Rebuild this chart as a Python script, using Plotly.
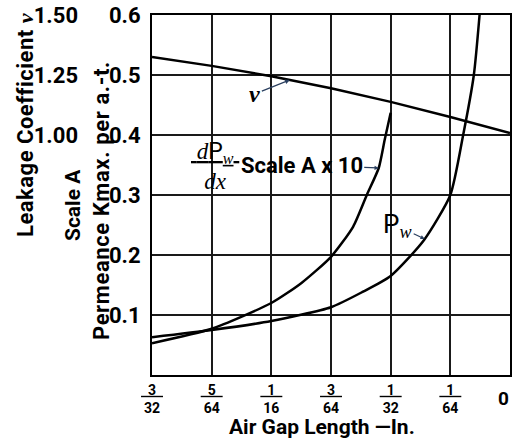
import numpy as np
import plotly.graph_objects as go

# ---- data (air gap in 64ths of an inch) ----
nu_gap_64 = [6, 5, 4, 3, 2, 1, 0]
nu_leakage = [1.325, 1.288, 1.245, 1.195, 1.138, 1.075, 1.008]

dpdx_gap_64 = [6.0, 5.0, 4.0, 3.5, 3.0, 2.63, 2.4, 2.2, 2.1, 2.0]
dpdx_scaleA = [0.053, 0.077, 0.12, 0.153, 0.197, 0.247, 0.30, 0.345, 0.392, 0.437]

pw_gap_64 = [6.0, 5.0, 4.0, 3.0, 2.48, 2.0, 1.44, 1.0, 0.785, 0.606, 0.51]
pw_scaleA = [0.063, 0.075, 0.09, 0.113, 0.138, 0.165, 0.225, 0.30, 0.40, 0.50, 0.60]

x_tick_vals_64 = [6, 5, 4, 3, 2, 1, 0]
x_tick_num = ["3", "5", "1", "3", "1", "1"]
x_tick_den = ["32", "64", "16", "64", "32", "64"]
y_ticks = [0.1, 0.2, 0.3, 0.4, 0.5, 0.6]
nu_ticks = [1.00, 1.25, 1.50]

to_in = lambda a: [v / 64 for v in a]

FONT = "Roboto, Liberation Sans, sans-serif"
SERIF = "Liberation Serif, DejaVu Serif, serif"
W, H = 512, 444
PL, PR, PT, PB = 152, 510, 15, 375   # plot box in px
ML, MR, MT, MB = 0, W - PR, PT, H - PB
PW, PH = W - ML - MR, H - MT - MB
def px(x): return x / PW
def py(y): return (PB - y) / PH

fig = go.Figure()
line = dict(color="black", width=2.5, shape="spline", smoothing=0.6)
fig.add_trace(go.Scatter(x=to_in(nu_gap_64), y=nu_leakage, mode="lines", yaxis="y2",
                         line=dict(color="black", width=2.5)))
fig.add_trace(go.Scatter(x=to_in(dpdx_gap_64), y=dpdx_scaleA, mode="lines", line=line))
fig.add_trace(go.Scatter(x=to_in(pw_gap_64), y=pw_scaleA, mode="lines", line=line))

ticktext = [f"<u>\u00a0\u00a0{n}\u00a0\u00a0</u><br>{d}" for n, d in zip(x_tick_num, x_tick_den)] + [" "]

fig.update_layout(
    width=W, height=H, margin=dict(l=ML, r=MR, t=MT, b=MB, autoexpand=False),
    plot_bgcolor="white", paper_bgcolor="white", showlegend=False,
    font=dict(family=FONT, color="black"),
    xaxis=dict(domain=[PL / PW, 1], range=[6 / 64, 0], tickvals=to_in(x_tick_vals_64), ticktext=ticktext,
               showgrid=True, gridcolor="#1a1a1a", gridwidth=1.5, zeroline=False, automargin=False,
               showline=True, mirror=True, linecolor="black", linewidth=2, ticks="",
               ticklabeloverflow="allow",
               tickfont=dict(size=14, family=FONT, weight="bold"), ticklabelstandoff=1),
    yaxis=dict(range=[0, 0.6], tickvals=y_ticks, tickformat=".1f", anchor="x", automargin=False,
               showgrid=True, gridcolor="#1a1a1a", gridwidth=1.5, zeroline=False,
               showline=True, mirror=True, linecolor="black", linewidth=2, ticks="",
               ticklabeloverflow="allow",
               tickfont=dict(size=22, family=FONT, weight="bold"), ticklabelstandoff=5),
    yaxis2=dict(range=[0, 1.5], tickvals=nu_ticks, tickformat=".2f", overlaying="y", anchor="free",
                position=px(78), side="left", showgrid=False, zeroline=False, showline=False, ticks="",
                automargin=False, ticklabeloverflow="allow",
                tickfont=dict(size=22, family=FONT, weight="bold")),
)

ann = []
def label(text, x, y, size, angle=0, family=FONT, bold=True):
    ann.append(dict(text=text, x=px(x), y=py(y), xref="paper", yref="paper", textangle=angle,
                    xanchor="center", yanchor="middle", showarrow=False,
                    font=dict(size=size, family=family, weight="bold" if bold else "normal")))

# y-axis titles
label("<span style='letter-spacing:0.5px'>Leakage Coefficient </span>"
      "<i style='font-family:Liberation Serif'>ν</i>", 25, 125, 22, -90)
label("Scale A", 73, 205, 21, -90)
label("<span style='letter-spacing:0.6px'>Permeance Kmax. per a.-t.</span>", 102, 201, 22, -90)
# x-axis title
label("Air Gap Length —In.", 322, 427, 21)
# 0 tick at right end of the reversed axis
ann.append(dict(text="0", x=0, y=py(398), xref="x", yref="paper", xanchor="center", yanchor="middle",
                showarrow=False, font=dict(size=19, family=FONT, weight="bold"), xshift=-7))

# curve labels
nu_x = 3.69
nu_y = float(np.interp(nu_x, nu_gap_64[::-1], nu_leakage[::-1]))
ann.append(dict(text="<b><i>ν</i></b>", x=nu_x / 64, y=nu_y, xref="x", yref="y2",
                ax=-35, ay=14, showarrow=True, arrowhead=2, arrowsize=0.8, arrowwidth=1.2,
                font=dict(size=24, family=SERIF)))
dp_x = 2.2
dp_y = float(np.interp(dp_x, dpdx_gap_64[::-1], dpdx_scaleA[::-1]))
ann.append(dict(text="Scale A x 10", x=dp_x / 64, y=dp_y, xref="x", yref="y",
                ax=-77, ay=-3, showarrow=True, arrowhead=2, arrowsize=0.7, arrowwidth=1.2,
                font=dict(size=22, family=FONT, weight="bold")))
label("<u>\u00a0<i>d</i><span style='font-family:Roboto'>P</span><sub><i>w</i></sub>\u00a0</u><br><i>dx</i>",
      215, 166, 23, family=SERIF, bold=False)
pw_x = 1.43
pw_y = float(np.interp(pw_x, pw_gap_64[::-1], pw_scaleA[::-1]))
ann.append(dict(text="<span style='font-family:Roboto'>P</span><sub><i>w</i></sub>",
                x=pw_x / 64, y=pw_y, xref="x", yref="y",
                ax=-27, ay=-13, showarrow=True, arrowhead=2, arrowsize=0.7, arrowwidth=1.2,
                font=dict(size=26, family=SERIF)))
fig.update_layout(annotations=ann)

fig.write_html("out.html", config={"displayModeBar": False},
               post_script="document.body.style.margin='0px';document.body.style.overflow='hidden';")
